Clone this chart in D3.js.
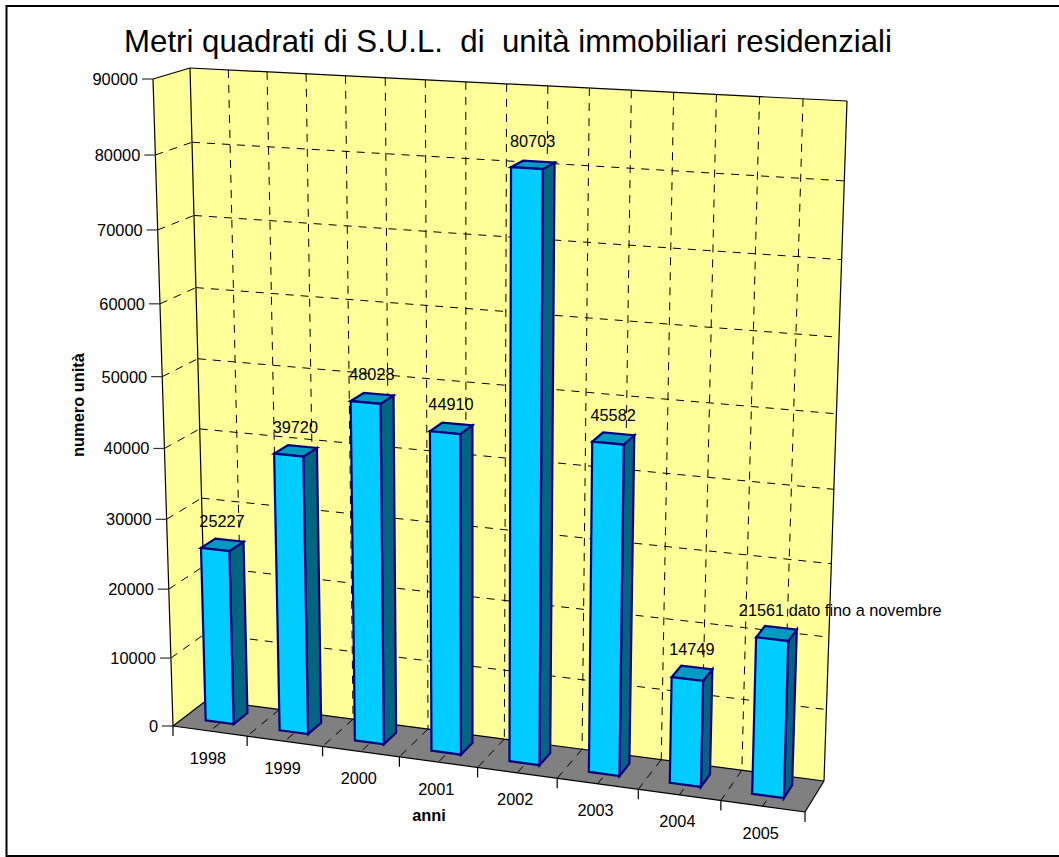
<!DOCTYPE html>
<html><head><meta charset="utf-8">
<script src="https://cdn.jsdelivr.net/npm/d3@7"></script>
<style>html,body{margin:0;padding:0;background:#fff}svg{display:block}text{font-family:"Liberation Sans",Arial,sans-serif;fill:#000}</style>
</head><body><svg id="c" width="1059" height="857"></svg>
<script>
const titleText = "Metri quadrati di S.U.L.  di  unità immobiliari residenziali";
const yTitle = "numero unità";
const xTitle = "anni";
const years = ["1998","1999","2000","2001","2002","2003","2004","2005"];
const values = [25227,39720,48028,44910,80703,45582,14749,21561];
const dataLabels = ["25227","39720","48028","44910","80703","45582","14749","21561 dato fino a novembre"];
const yDomain = [0,90000];
const colors = {wall:"#FFFF99",floor:"#808080",front:"#00CCFF",side:"#006680",top:"#0099BF",edge:"#000080"};

// Projection of the 3D box, corners in page pixels
const C = {
  fbl:[173,726], fbr:[805,812], bbl:[207,700], bbr:[824,781],
  ftl:[153,79],  ftr:[825,117], btl:[190,68],  btr:[847,101]
};
const persp = k => t => t/(1+k*(1-t));
const warpU = persp(0.075), warpV = persp(0.065);
const lerp = (a,b,t)=>[a[0]+(b[0]-a[0])*t,a[1]+(b[1]-a[1])*t];
const yScale = d3.scaleLinear().domain(yDomain).range([0,1]);
const xBand = d3.scaleBand().domain(years).range([0,1]);
// project: u across categories (0..1), v value (0..1), w depth (0 front .. 1 back)
function P(u,v,w){
  const U=warpU(u),V=warpV(v);
  const fb=lerp(C.fbl,C.fbr,U),bb=lerp(C.bbl,C.bbr,U),ft=lerp(C.ftl,C.ftr,U),bt=lerp(C.btl,C.btr,U);
  return lerp(lerp(fb,bb,w),lerp(ft,bt,w),V);
}
const svg=d3.select("#c");
const poly=(pts,fill,stroke,sw)=>svg.append("path").attr("d","M"+pts.map(p=>p.join(",")).join("L")+"Z")
  .attr("fill",fill).attr("stroke",stroke||"none").attr("stroke-width",sw||0).attr("stroke-linejoin","miter");
const line=(a,b,o={})=>svg.append("line").attr("x1",a[0]).attr("y1",a[1]).attr("x2",b[0]).attr("y2",b[1])
  .attr("stroke",o.c||"#000").attr("stroke-width",o.w||1.2).attr("stroke-dasharray",o.d||null);
const DASH="8 7";

// frame
svg.append("path").attr("d","M1059,6H6.5V856H1059").attr("fill","none").attr("stroke","#000").attr("stroke-width",2);

// walls and floor
poly([P(0,0,0),P(0,0,1),P(0,1,1),P(0,1,0)],colors.wall);
poly([P(0,0,1),P(1,0,1),P(1,1,1),P(0,1,1)],colors.wall);
poly([P(0,0,0),P(1,0,0),P(1,0,1),P(0,0,1)],colors.floor);

// gridlines
const yTicks=yScale.ticks(9);
yTicks.forEach(t=>{
  if(t===0||t===yDomain[1])return;
  const v=yScale(t);
  line(P(0,v,0),P(0,v,1),{d:DASH,w:1});
  line(P(0,v,1),P(1,v,1),{d:DASH,w:1});
});
const gridU=d3.range(1,2*years.length).map(i=>i/(2*years.length));
gridU.forEach(u=>{
  line(P(u,1,1),P(u,0,1),{d:DASH,w:1});
  line(P(u,0,1),P(u,0,0),{d:DASH,w:1});
});

// box edges
line(P(0,0,0),P(0,1,0));
line(P(0,1,0),P(0,1,1));
line(P(0,0,1),P(0,1,1));
line(P(0,1,1),P(1,1,1));
line(P(1,1,1),P(1,0,1));
line(P(0,0,0),P(0,0,1));
line(P(0,0,1),P(1,0,1));
line(P(0,0,0),P(1,0,0));
line(P(1,0,0),P(1,0,1));

// y axis ticks + labels
yTicks.forEach(t=>{
  const p=P(0,yScale(t),0);
  line([p[0]-11,p[1]],p,{c:"#333"});
  svg.append("text").attr("x",p[0]-15).attr("y",p[1]+6).attr("text-anchor","end").attr("font-size",16.4).text(t);
});
// x axis ticks + labels
d3.range(0,years.length+1).forEach(i=>{
  const p=P(i/years.length,0,0);
  line(p,[p[0],p[1]+10]);
});
years.forEach(y=>{
  const p=P(xBand(y)+xBand.bandwidth()/2,0,0);
  svg.append("text").attr("x",p[0]-2).attr("y",p[1]+32.5).attr("text-anchor","middle").attr("font-size",16.3).text(y);
});

// bars
const bw=xBand.bandwidth()*0.38, w0=0.33, w1=0.75;
years.forEach((y,i)=>{
  const c=xBand(y)+xBand.bandwidth()/2-0.002, a=c-bw/2, b=c+bw/2, v=yScale(values[i]);
  poly([P(b,0,w0),P(b,0,w1),P(b,v,w1),P(b,v,w0)],colors.side,colors.edge,2.2);
  poly([P(a,v,w0),P(b,v,w0),P(b,v,w1),P(a,v,w1)],colors.top,colors.edge,2.2);
  poly([P(a,0,w0),P(b,0,w0),P(b,v,w0),P(a,v,w0)],colors.front,colors.edge,2.2);
});
// data labels
years.forEach((y,i)=>{
  const c=xBand(y)+xBand.bandwidth()/2, v=yScale(values[i]), p=P(c,v,(w0+w1)/2);
  const last=i===years.length-1;
  svg.append("text").attr("x",last?p[0]-39:p[0]-1.5).attr("y",p[1]-18)
    .attr("text-anchor",last?"start":"middle").attr("font-size",16.3).text(dataLabels[i]);
});

// titles
svg.append("text").attr("x",508).attr("y",52).attr("text-anchor","middle").attr("font-size",31.2).style("white-space","pre").text(titleText);
svg.append("text").attr("transform","translate(84,405) rotate(-90)").attr("text-anchor","middle").attr("font-size",16.4).attr("font-weight","bold").text(yTitle);
svg.append("text").attr("x",429).attr("y",821).attr("text-anchor","middle").attr("font-size",16.4).attr("font-weight","bold").text(xTitle);
</script></body></html>
